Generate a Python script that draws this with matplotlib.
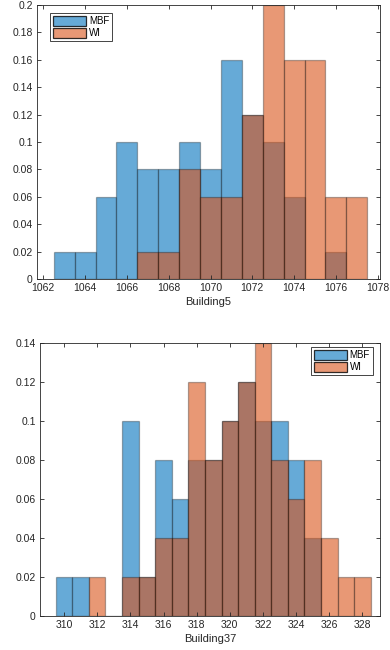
import matplotlib

matplotlib.use("Agg", force=True)
import matplotlib.pyplot as plt
from matplotlib.ticker import FuncFormatter

# Building5 histogram (bin centers, probability per bin)
b5_centers = [1063, 1064, 1065, 1066, 1067, 1068, 1069, 1070, 1071, 1072, 1073, 1074, 1075, 1076, 1077]
b5_mbf = [0.02, 0.02, 0.06, 0.10, 0.08, 0.08, 0.10, 0.08, 0.16, 0.12, 0.10, 0.06, 0.00, 0.02, 0.00]
b5_wi = [0.00, 0.00, 0.00, 0.00, 0.02, 0.02, 0.08, 0.06, 0.06, 0.12, 0.20, 0.16, 0.16, 0.06, 0.06]
b5_xticks = [1062, 1064, 1066, 1068, 1070, 1072, 1074, 1076, 1078]
b5_yticks = [0, 0.02, 0.04, 0.06, 0.08, 0.1, 0.12, 0.14, 0.16, 0.18, 0.2]

# Building37 histogram
b37_centers = [310, 311, 312, 313, 314, 315, 316, 317, 318, 319, 320, 321, 322, 323, 324, 325, 326, 327, 328]
b37_mbf = [0.02, 0.02, 0.00, 0.00, 0.10, 0.02, 0.08, 0.06, 0.08, 0.08, 0.10, 0.12, 0.10, 0.10, 0.08, 0.04, 0.00, 0.00, 0.00]
b37_wi = [0.00, 0.00, 0.02, 0.00, 0.02, 0.02, 0.04, 0.04, 0.12, 0.08, 0.10, 0.12, 0.14, 0.08, 0.06, 0.08, 0.04, 0.02, 0.02]
b37_xticks = [310, 312, 314, 316, 318, 320, 322, 324, 326, 328]
b37_yticks = [0, 0.02, 0.04, 0.06, 0.08, 0.1, 0.12, 0.14]

BLUE = (0.0, 0.447, 0.741, 0.6)
ORANGE = (0.85, 0.325, 0.098, 0.6)
EDGE = (0, 0, 0, 0.3)
AXCOL = "#262626"

plt.rcParams["font.family"] = ["Liberation Sans", "DejaVu Sans"]
plt.rcParams["font.size"] = 7.5


def draw_hist(ax, centers, mbf, wi, xlim, ylim, xticks, yticks, xlabel, legend_loc, legend_anchor):
    ax.bar(centers, mbf, width=1.0, facecolor=BLUE, edgecolor=EDGE,
           linewidth=0.9, label="MBF")
    ax.bar(centers, wi, width=1.0, facecolor=ORANGE, edgecolor=EDGE,
           linewidth=0.9, label="WI")
    ax.set_xlim(*xlim)
    ax.set_ylim(*ylim)
    ax.set_xticks(xticks)
    ax.set_yticks(yticks)
    ax.yaxis.set_major_formatter(FuncFormatter(lambda v, p: f"{v:g}"))
    ax.tick_params(direction="in", top=True, right=True, length=3, width=0.6,
                   colors=AXCOL, labelsize=7.5, pad=3)
    for sp in ax.spines.values():
        sp.set_color(AXCOL)
        sp.set_linewidth(0.6)
    ax.set_xlabel(xlabel, color=AXCOL, fontsize=8, labelpad=3)
    leg = ax.legend(loc=legend_loc, bbox_to_anchor=legend_anchor, fancybox=False,
                    framealpha=1, edgecolor="#262626", fontsize=7, handlelength=3.4,
                    handleheight=1.2, handletextpad=0.3, borderpad=0.3,
                    labelspacing=0.15, borderaxespad=0.0)
    leg.get_frame().set_linewidth(0.6)
    for h in leg.legend_handles:
        h.set_edgecolor((0, 0, 0, 0.8))


fig = plt.figure(figsize=(3.9, 6.5), dpi=100)
ax1 = fig.add_axes([0.0949, 0.5708, 0.879, 0.4215])
ax2 = fig.add_axes([0.1026, 0.0523, 0.8714, 0.4205])

draw_hist(ax1, b5_centers, b5_mbf, b5_wi, (1061.7, 1078.1), (0, 0.2),
          b5_xticks, b5_yticks, "Building5", "upper left", (0.038, 0.971))
draw_hist(ax2, b37_centers, b37_mbf, b37_wi, (308.55, 329.05), (0, 0.14),
          b37_xticks, b37_yticks, "Building37", "upper right", (0.979, 0.984))

fig.savefig("out.png", dpi=100)
plt.close(fig)
